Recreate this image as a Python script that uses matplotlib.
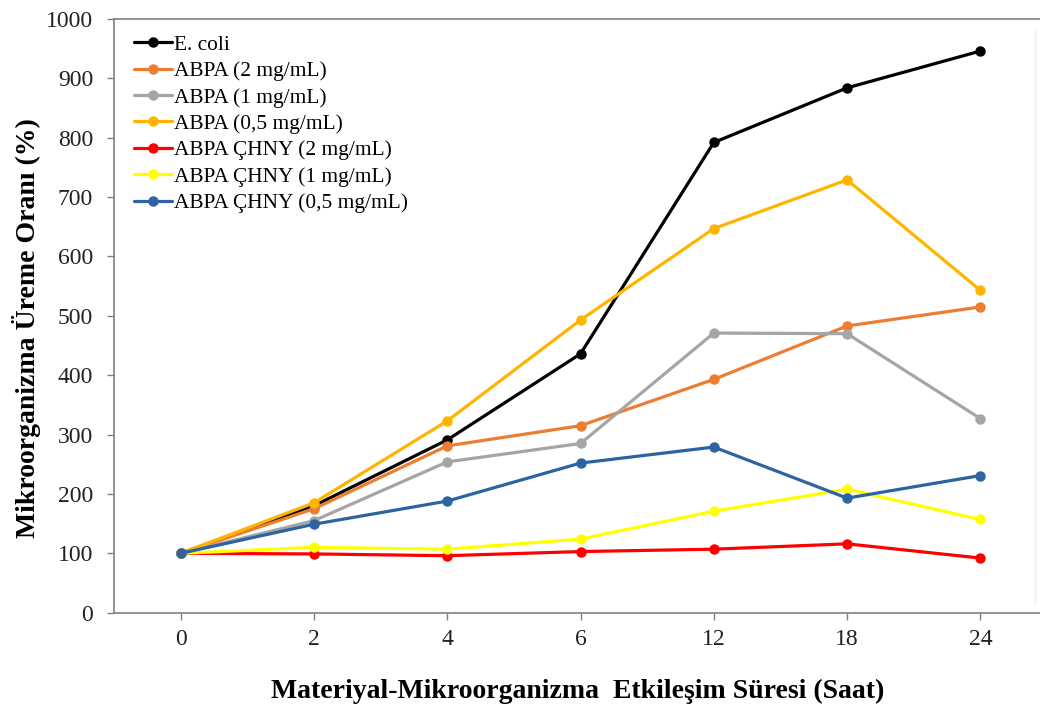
import matplotlib.pyplot as plt
from matplotlib.lines import Line2D

plt.rcParams['font.family'] = ['Liberation Serif', 'DejaVu Serif']

hours = ['0', '2', '4', '6', '12', '18', '24']

ecoli = [100, 180, 291, 436, 792, 884, 946]
abpa_2 = [100, 175, 281, 315, 393, 483, 515]
abpa_1 = [100, 155, 254, 285, 471, 470, 327]
abpa_05 = [100, 185, 323, 493, 647, 729, 543]
chny_2 = [100, 99, 96, 103, 107, 116, 92]
chny_1 = [100, 110, 107, 124, 171, 208, 157]
chny_05 = [100, 149, 188, 252, 279, 193, 231]

series = [
    ('E. coli', ecoli, '#000000'),
    ('ABPA (2 mg/mL)', abpa_2, '#ED7D31'),
    ('ABPA (1 mg/mL)', abpa_1, '#A5A5A5'),
    ('ABPA (0,5 mg/mL)', abpa_05, '#FFB500'),
    ('ABPA ÇHNY (2 mg/mL)', chny_2, '#FF0000'),
    ('ABPA ÇHNY (1 mg/mL)', chny_1, '#FFFF00'),
    ('ABPA ÇHNY (0,5 mg/mL)', chny_05, '#2B64A0'),
]

fig = plt.figure(figsize=(10.4, 7.06), dpi=100)
ax_h = 612.7 - 19
ax_w = 933
ax = fig.add_axes([114 / 1040, 1 - 612.7 / 706, ax_w / 1040, ax_h / 706])

x = list(range(len(hours)))
for label, vals, color in series:
    ax.plot(x, vals, color=color, lw=2.3, marker='o', markersize=6.5,
            label=label, solid_capstyle='round')

ax.set_xlim(-0.5, len(hours) - 0.5)
ax.set_ylim(0, 1000)
ax.set_yticks(range(0, 1001, 100))
ax.set_xticks(x)
ax.set_xticklabels(hours)

spine_color = '#808080'
for side in ['left', 'bottom', 'top']:
    ax.spines[side].set_color(spine_color)
    ax.spines[side].set_linewidth(1.2)
ax.spines['right'].set_visible(False)

ax.tick_params(axis='both', direction='out', length=5, width=1.0,
               color=spine_color, labelsize=17, labelcolor='#222222')
ax.tick_params(axis='x', pad=7)
ax.tick_params(axis='y', pad=10)

ax.set_xlabel('Materiyal-Mikroorganizma  Etkileşim Süresi (Saat)',
              fontsize=20, fontweight='bold', va='center')
ax.xaxis.set_label_coords((578 - 114) / ax_w, -(691 - 612.7) / ax_h)
ax.set_ylabel('Mikroorganizma Üreme Oranı (%)', fontsize=20,
              fontweight='bold', va='center')
ax.yaxis.set_label_coords(-(114 - 27) / ax_w, (612.7 - 328) / ax_h)

ax.legend(loc='upper left', bbox_to_anchor=(0.008, 0.995), frameon=False,
          fontsize=15.4, handlelength=1.75, handletextpad=0.1,
          labelspacing=0.3, borderaxespad=0.2)

# faint outer border on the right
fig.add_artist(Line2D([1035 / 1040, 1035 / 1040], [1 - 603 / 706, 1 - 30 / 706],
                      transform=fig.transFigure, color='#eeeeee', lw=1))

fig.savefig('out.png', dpi=100, facecolor='white')
